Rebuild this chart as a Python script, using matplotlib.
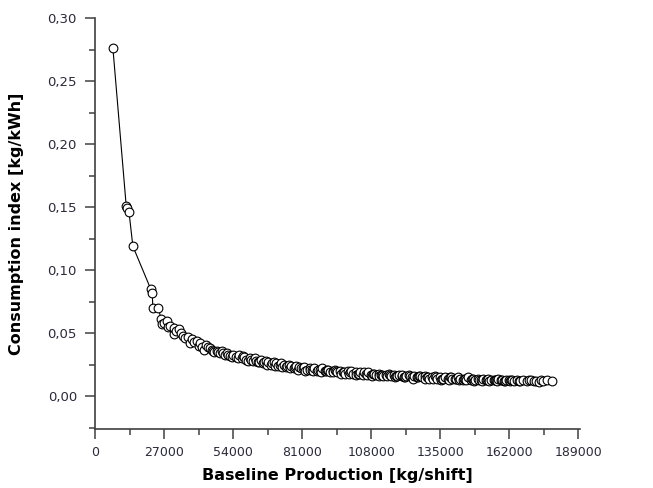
import matplotlib
matplotlib.use("Agg")
import matplotlib.pyplot as plt
from matplotlib.ticker import MultipleLocator, FuncFormatter

production = [7000, 12200, 12600, 13300, 14800, 21800, 22400, 22600, 24800, 25800,
              26300, 28000, 28600, 29500, 30800, 31600, 32800, 33800, 35200, 36400,
              37000, 38600, 39700, 40500, 41800, 42600, 43500, 44800, 45900, 46600,
              47800, 48900, 49600, 50800, 51700, 52900, 54000, 55200, 56100, 57300,
              58400, 59200, 60500, 61600, 62400, 63700, 64800, 65600, 66900, 67800,
              68700, 69900, 70800, 71600, 72900, 73700, 74800, 75900, 76700, 77800,
              78600, 79900, 80700, 81800, 82700, 83900, 84800, 85700, 86900, 87800,
              88700, 89900, 90800, 91700, 92900, 93800, 94700, 95900, 96800, 97700,
              98900, 99800, 100700, 101900, 102800, 103700, 104900, 105800, 106700, 107900,
              108800, 109700, 110900, 111800, 112700, 113900, 114800, 115700, 116900, 117800,
              118700, 119900, 120800, 121700, 122900, 123800, 124700, 125900, 126800, 127700,
              128900, 129800, 130700, 131900, 132800, 133700, 134900, 135800, 136700, 137900,
              138800, 139700, 140900, 141800, 142700, 143900, 144800, 145700, 146900, 147800,
              148700, 149900, 150800, 151700, 152900, 153800, 154700, 155900, 156800, 157700,
              158900, 159800, 160700, 161900, 162800, 163700, 164900, 165800, 167500, 168900,
              170500, 171800, 173600, 175200, 176800, 178600]

index = [0.276, 0.151, 0.149, 0.146, 0.119, 0.085, 0.082, 0.070, 0.070, 0.061,
         0.057, 0.060, 0.055, 0.056, 0.049, 0.052, 0.053, 0.050, 0.046, 0.047,
         0.042, 0.043, 0.044, 0.040, 0.039, 0.037, 0.041, 0.038, 0.037, 0.035,
         0.036, 0.034, 0.036, 0.033, 0.034, 0.032, 0.033, 0.031, 0.033, 0.030,
         0.031, 0.029, 0.030, 0.028, 0.030, 0.027, 0.029, 0.026, 0.028, 0.027,
         0.025, 0.027, 0.026, 0.024, 0.026, 0.025, 0.023, 0.025, 0.024, 0.022,
         0.024, 0.023, 0.022, 0.023, 0.021, 0.022, 0.021, 0.022, 0.020, 0.021,
         0.022, 0.020, 0.021, 0.019, 0.020, 0.021, 0.019, 0.020, 0.019, 0.018,
         0.020, 0.019, 0.018, 0.019, 0.018, 0.019, 0.017, 0.018, 0.019, 0.017,
         0.018, 0.017, 0.018, 0.017, 0.016, 0.017, 0.018, 0.016, 0.017, 0.016,
         0.017, 0.016, 0.015, 0.016, 0.017, 0.015, 0.016, 0.015, 0.016, 0.015,
         0.016, 0.015, 0.014, 0.015, 0.016, 0.014, 0.015, 0.014, 0.015, 0.014,
         0.015, 0.014, 0.0135, 0.015, 0.014, 0.013, 0.014, 0.015, 0.013, 0.014,
         0.013, 0.014, 0.013, 0.014, 0.013, 0.014, 0.013, 0.0125, 0.013, 0.014,
         0.013, 0.012, 0.013, 0.0125, 0.013, 0.012, 0.013, 0.012, 0.0125, 0.012,
         0.013, 0.012, 0.0115, 0.012, 0.0125, 0.012]

production_extra = [27000, 31000, 34500, 38000, 41000,
                    44000, 46000, 48000, 50000, 52000, 53500, 55800, 57800, 59800, 61000,
                    63000, 64200, 66200, 67200, 69200, 70200, 72200, 73200, 75200, 76200,
                    78200, 79200, 81200, 82200, 84200, 85200, 87200, 88200, 90200, 91200,
                    93200, 94200, 96200, 97200, 99200, 100200, 102200, 103200, 105200, 106200,
                    108200, 109200, 111200, 112200, 114200, 115200, 117200, 118200, 120200, 121200,
                    123200, 124200, 126200, 127200, 129200, 130200, 132200, 133200, 135200, 136200,
                    138200, 139200, 141200, 142200, 144200, 145200, 147200, 148200, 150200, 151200,
                    153200, 154200, 156200, 157200, 159200, 160200, 162200, 163200, 166200, 169500,
                    172500, 174500]

index_extra = [0.058, 0.054, 0.048, 0.045, 0.042,
               0.039, 0.036, 0.035, 0.034, 0.033, 0.031, 0.030, 0.032, 0.028, 0.029,
               0.028, 0.027, 0.027, 0.025, 0.026, 0.024, 0.025, 0.023, 0.024, 0.022,
               0.023, 0.021, 0.022, 0.020, 0.021, 0.020, 0.021, 0.019, 0.020, 0.021,
               0.019, 0.020, 0.018, 0.019, 0.018, 0.020, 0.017, 0.018, 0.019, 0.017,
               0.016, 0.018, 0.016, 0.017, 0.016, 0.017, 0.015, 0.016, 0.017, 0.015,
               0.016, 0.014, 0.015, 0.016, 0.014, 0.015, 0.014, 0.015, 0.013, 0.014,
               0.013, 0.015, 0.014, 0.013, 0.014, 0.013, 0.014, 0.012, 0.013, 0.012,
               0.013, 0.012, 0.013, 0.012, 0.013, 0.012, 0.012, 0.013, 0.012, 0.0125,
               0.012, 0.0125]

x_ticks = [0, 27000, 54000, 81000, 108000, 135000, 162000, 189000]
y_ticks = [0.00, 0.05, 0.10, 0.15, 0.20, 0.25, 0.30]
x_label = "Baseline Production [kg/shift]"
y_label = "Consumption index [kg/kWh]"

pairs = sorted(zip(production + production_extra, index + index_extra))
xs = [p[0] for p in pairs]
ys = [p[1] for p in pairs]

plt.rcParams['font.family'] = ['DejaVu Sans']
fig = plt.figure(figsize=(6.53, 4.88), dpi=100)
ax = fig.add_axes([95/653, 1-429/488, (580-95)/653, (429-18)/488])

ax.plot(xs, ys, color='black', lw=0.8, marker='o', ms=6.3,
        mfc='white', mec='black', mew=0.8)

ax.set_xlim(0, 189600)
ax.set_ylim(-0.026, 0.30)
ax.set_xticks(x_ticks)
ax.set_yticks(y_ticks)
ax.xaxis.set_minor_locator(MultipleLocator(13500))
ax.yaxis.set_minor_locator(MultipleLocator(0.025))
ax.yaxis.set_major_formatter(FuncFormatter(lambda v, p: f"{v:.2f}".replace('.', ',')))
ax.xaxis.set_major_formatter(FuncFormatter(lambda v, p: f"{int(round(v))}"))

for s in ['top', 'right']:
    ax.spines[s].set_visible(False)
for s in ['left', 'bottom']:
    ax.spines[s].set_color('#404040')
    ax.spines[s].set_linewidth(1.2)

ax.tick_params(which='major', direction='out', length=7, width=1.1, color='#404040',
               labelcolor='#2a2a3a')
ax.tick_params(axis='y', which='major', labelsize=9.5, pad=6)
ax.tick_params(axis='x', which='major', labelsize=9, pad=5)
ax.tick_params(which='minor', direction='out', length=4, width=1.1, color='#404040')

ax.set_xlabel(x_label, fontsize=11.5, fontweight='bold', labelpad=7)
ax.set_ylabel(y_label, fontsize=11.5, fontweight='bold', labelpad=17)

fig.savefig('out.png', dpi=100)
